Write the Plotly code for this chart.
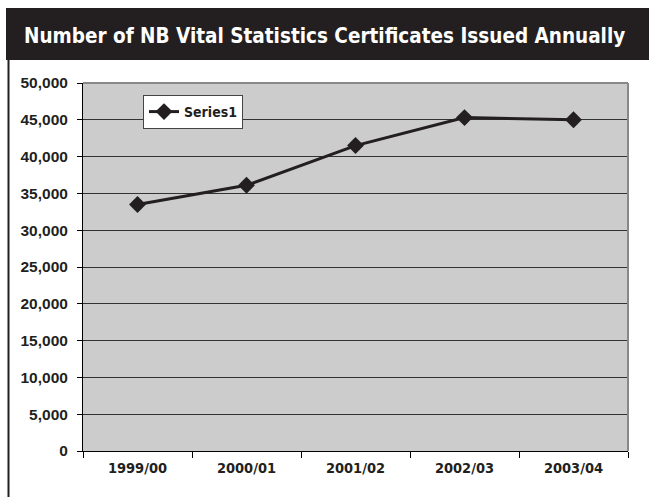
import plotly.graph_objects as go

categories = ["1999/00", "2000/01", "2001/02", "2002/03", "2003/04"]
series1 = [33500, 36100, 41500, 45300, 45000]
y_ticks = [0, 5000, 10000, 15000, 20000, 25000, 30000, 35000, 40000, 45000, 50000]
title_text = "Number of NB Vital Statistics Certificates Issued Annually"

W, H = 649, 497
L, R, T, B = 83, 21, 83, 46
PW, PH = W - L - R, H - T - B

def px(x):
    return (x - L) / PW

def py(y):
    return (H - B - y) / PH

FONT = "DejaVu Sans Condensed, Liberation Sans, sans-serif"
FONT2 = "Liberation Sans, sans-serif"

fig = go.Figure()
fig.add_trace(go.Scatter(
    x=categories, y=series1, name="Series1", mode="lines+markers",
    line=dict(color="#231f20", width=3),
    marker=dict(symbol="diamond", size=13, color="#231f20"),
))

fig.update_layout(
    width=W, height=H,
    margin=dict(l=L, r=R, t=T, b=B),
    paper_bgcolor="white",
    plot_bgcolor="#cccccc",
    showlegend=True,
    legend=dict(
        x=px(143), y=py(95), xanchor="left", yanchor="top",
        bgcolor="white", bordercolor="#444444", borderwidth=1,
        font=dict(family=FONT, size=14, color="#231f20", weight="bold"),
        itemwidth=30, tracegroupgap=0,
    ),
    xaxis=dict(
        type="category", range=[-0.5, 4.5], tickson="boundaries",
        ticks="outside", ticklen=6, tickcolor="black",
        showline=True, linecolor="black", linewidth=1,
        showgrid=False, fixedrange=True, ticklabelstandoff=4,
        tickfont=dict(family=FONT, size=14.5, color="#231f20", weight="bold"),
    ),
    yaxis=dict(
        range=[0, 50000], tickvals=y_ticks, tickformat=",",
        ticks="outside", ticklen=5, tickcolor="black",
        showline=True, linecolor="black", linewidth=1,
        showgrid=True, gridcolor="#333333", gridwidth=1.2,
        zeroline=False, ticklabelstandoff=6,
        tickfont=dict(family=FONT2, size=15.5, color="#231f20", weight="bold"),
    ),
)

# title bar
fig.add_shape(type="rect", xref="paper", yref="paper",
              x0=px(6), x1=px(649), y0=py(60), y1=py(8),
              fillcolor="#231f20", line=dict(width=0), layer="below")
# left frame border
fig.add_shape(type="line", xref="paper", yref="paper",
              x0=px(8.5), x1=px(8.5), y0=py(497), y1=py(60),
              line=dict(color="#231f20", width=2))
# right and top plot border
fig.add_shape(type="line", xref="paper", yref="paper",
              x0=1, x1=1, y0=0, y1=1, line=dict(color="#888888", width=2))
fig.add_shape(type="line", xref="paper", yref="paper",
              x0=0, x1=1, y0=1, y1=1, line=dict(color="#888888", width=2))

fig.add_annotation(
    text=title_text, xref="paper", yref="paper",
    x=px(324), y=py(36), xanchor="center", yanchor="middle",
    showarrow=False,
    font=dict(family=FONT, size=20.5, color="white", weight="bold"),
)

fig.write_html("out.html")
